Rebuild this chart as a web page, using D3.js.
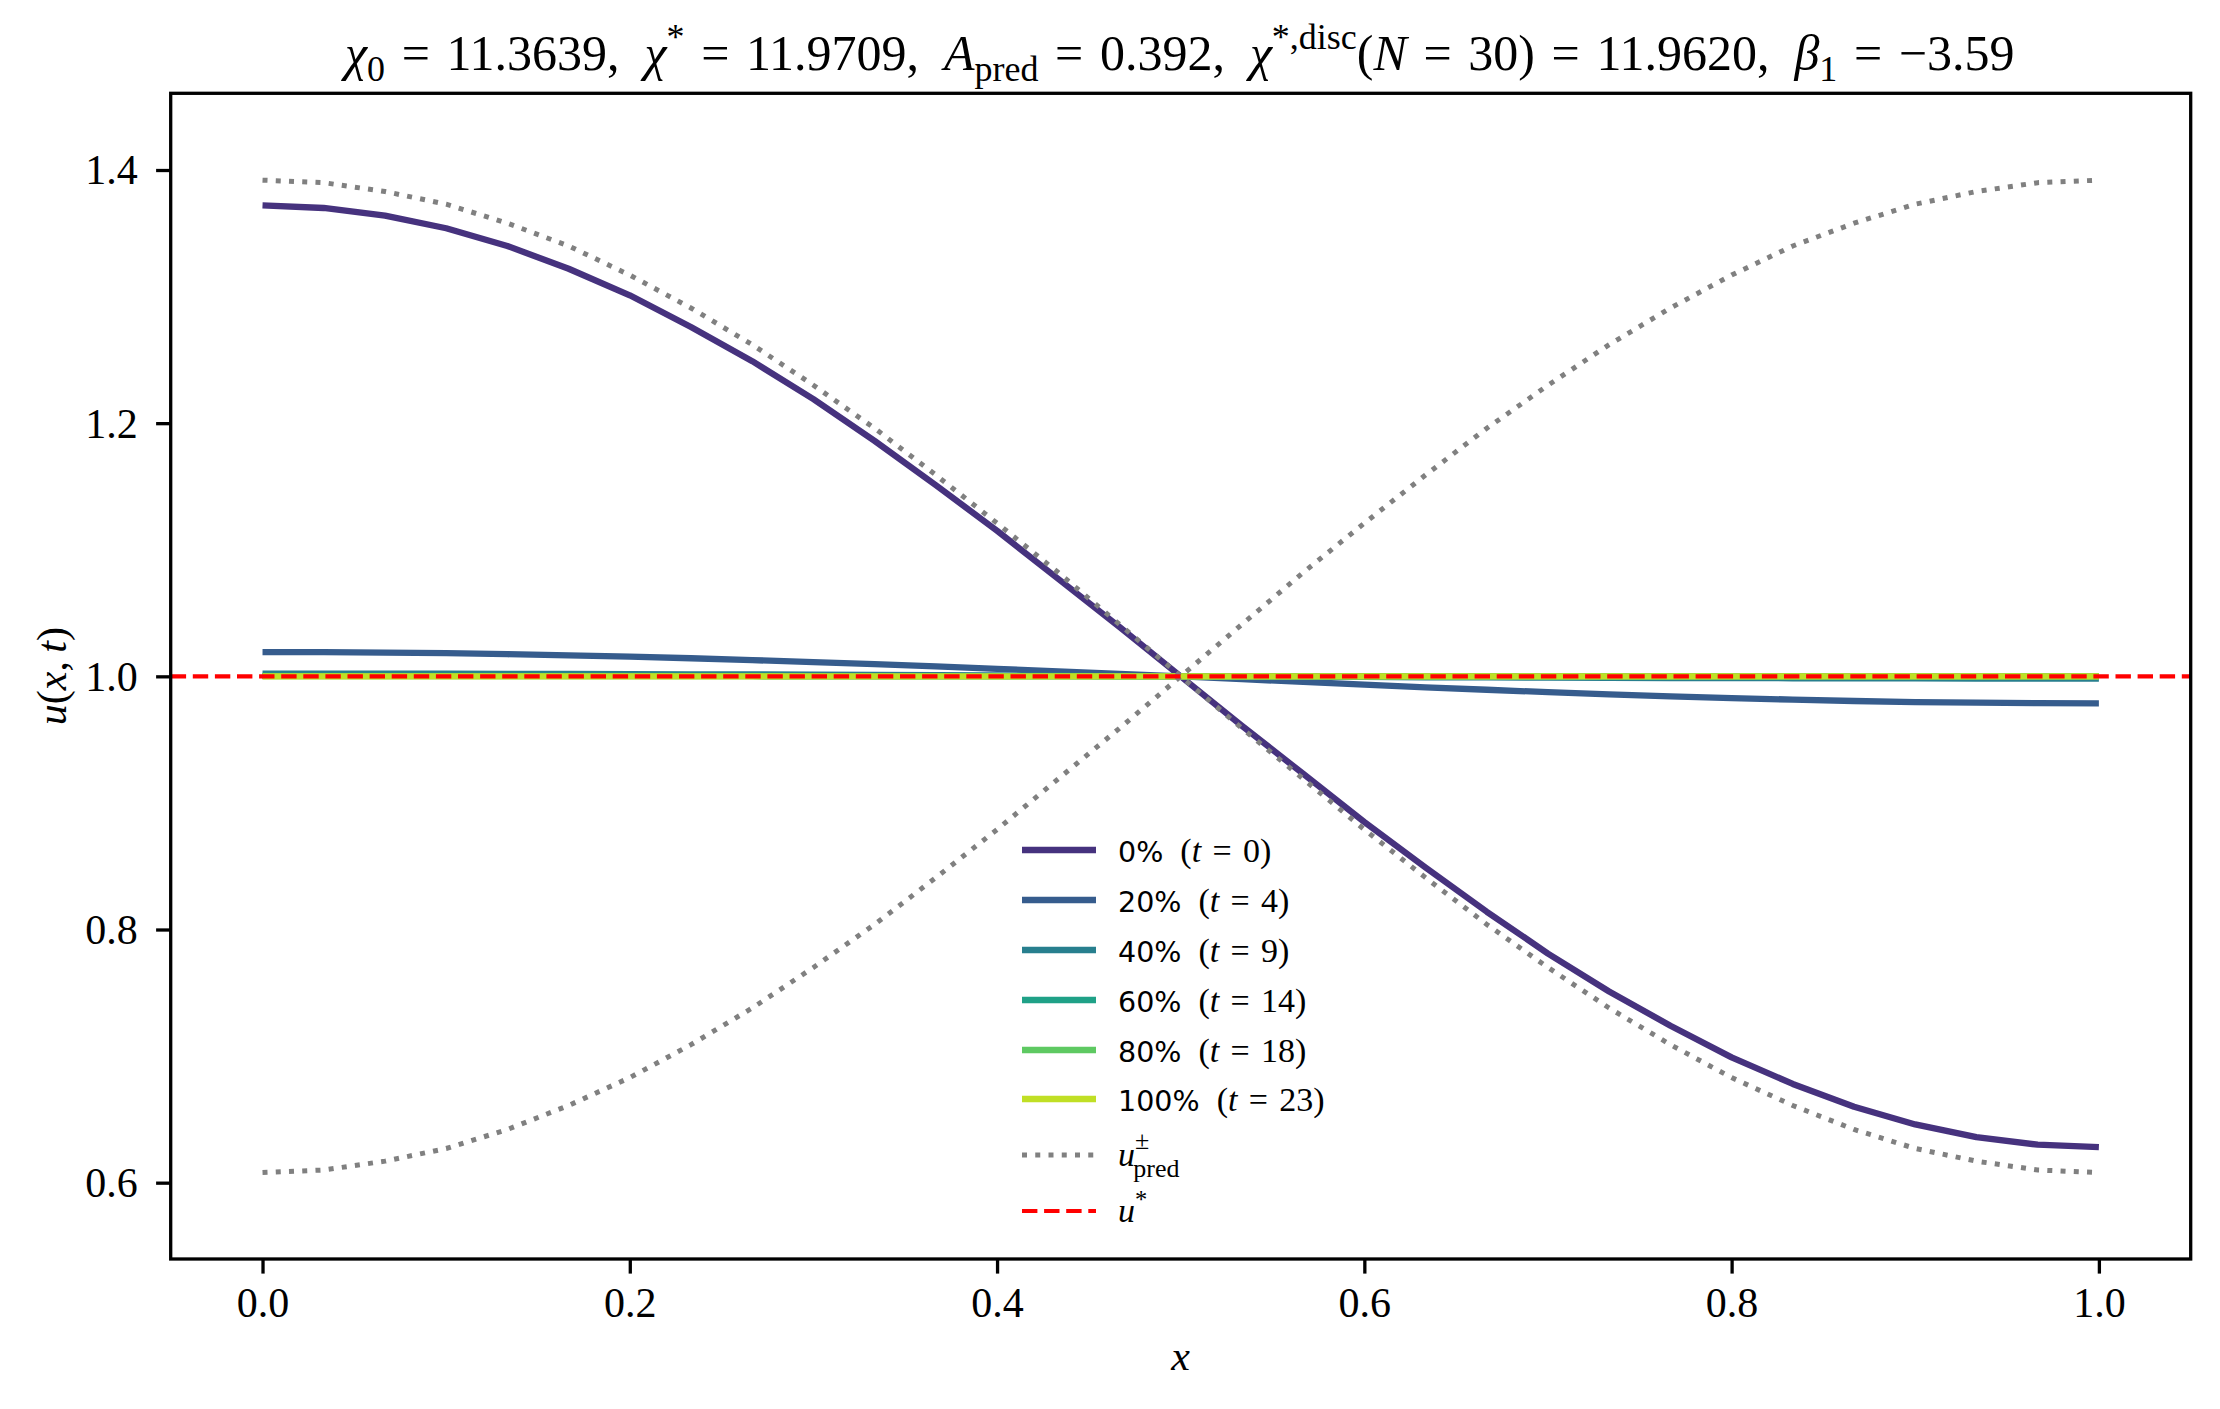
<!DOCTYPE html>
<html>
<head>
<meta charset="utf-8">
<script src="https://cdn.jsdelivr.net/npm/d3@7"></script>
<style>
  body { margin: 0; background: #fff; }
  svg { display: block; }
</style>
</head>
<body>
<div id="chart"></div>
<script>
// grid points x_k = k/30
const xs = [0, 0.0333, 0.0667, 0.1, 0.1333, 0.1667, 0.2, 0.2333, 0.2667, 0.3, 0.3333,
  0.3667, 0.4, 0.4333, 0.4667, 0.5, 0.5333, 0.5667, 0.6, 0.6333, 0.6667,
  0.7, 0.7333, 0.7667, 0.8, 0.8333, 0.8667, 0.9, 0.9333, 0.9667, 1.0];

// snapshots of u(x,t)
const u0 = [1.372, 1.370, 1.364, 1.354, 1.340, 1.322, 1.301, 1.276, 1.249, 1.219, 1.186,
  1.151, 1.115, 1.077, 1.039, 1.000, 0.961, 0.923, 0.885, 0.849, 0.814,
  0.781, 0.751, 0.724, 0.699, 0.678, 0.660, 0.646, 0.636, 0.630, 0.628];
const u20 = [1.0192, 1.0191, 1.0188, 1.0183, 1.0175, 1.0166, 1.0155, 1.0143, 1.0128, 1.0113, 1.0096,
  1.0078, 1.0059, 1.0040, 1.0020, 1.0000, 0.9978, 0.9956, 0.9934, 0.9913, 0.9894,
  0.9875, 0.9858, 0.9842, 0.9828, 0.9816, 0.9805, 0.9797, 0.9792, 0.9788, 0.9787];
const u40 = [1.0022, 1.0022, 1.0022, 1.0021, 1.0020, 1.0019, 1.0018, 1.0016, 1.0015, 1.0013, 1.0011,
  1.0009, 1.0007, 1.0005, 1.0002, 1.0000, 0.9998, 0.9996, 0.9995, 0.9993, 0.9992,
  0.9990, 0.9989, 0.9987, 0.9986, 0.9985, 0.9984, 0.9984, 0.9983, 0.9983, 0.9983];
const u60 = [1.0004, 1.0004, 1.0004, 1.0004, 1.0004, 1.0003, 1.0003, 1.0003, 1.0003, 1.0002, 1.0002,
  1.0002, 1.0001, 1.0001, 1.0000, 1.0000, 0.9999, 0.9999, 0.9999, 0.9998, 0.9998,
  0.9998, 0.9998, 0.9997, 0.9997, 0.9997, 0.9997, 0.9997, 0.9997, 0.9997, 0.9997];
const u80 = [1.0001, 1.0001, 1.0001, 1.0001, 1.0001, 1.0001, 1.0001, 1.0001, 1.0001, 1.0000, 1.0000,
  1.0000, 1.0000, 1.0000, 1.0000, 1.0000, 1.0000, 1.0000, 1.0000, 1.0000, 1.0000,
  1.0000, 0.9999, 0.9999, 0.9999, 0.9999, 0.9999, 0.9999, 0.9999, 0.9999, 0.9999];
const u100 = [1.0, 1.0, 1.0, 1.0, 1.0, 1.0, 1.0, 1.0, 1.0, 1.0, 1.0,
  1.0, 1.0, 1.0, 1.0, 1.0, 1.0, 1.0, 1.0, 1.0, 1.0,
  1.0, 1.0, 1.0, 1.0, 1.0, 1.0, 1.0, 1.0, 1.0, 1.0];

// predicted envelopes u_pred^+ / u_pred^-
const uPredPlus = [1.392, 1.390, 1.383, 1.373, 1.358, 1.340, 1.317, 1.291, 1.262, 1.230, 1.196,
  1.159, 1.121, 1.082, 1.041, 1.000, 0.959, 0.919, 0.879, 0.841, 0.804,
  0.770, 0.738, 0.709, 0.683, 0.661, 0.642, 0.627, 0.617, 0.610, 0.608];
const uPredMinus = [0.608, 0.610, 0.617, 0.627, 0.642, 0.661, 0.683, 0.709, 0.738, 0.770, 0.804,
  0.841, 0.879, 0.919, 0.959, 1.000, 1.041, 1.082, 1.121, 1.159, 1.196,
  1.230, 1.262, 1.291, 1.317, 1.340, 1.358, 1.373, 1.383, 1.390, 1.392];
const uStar = 1.0;

const percentLabels = ["0%", "20%", "40%", "60%", "80%", "100%"];
const tValues = [0, 4, 9, 14, 18, 23];
const seriesColors = ["#46327e", "#365c8d", "#277f8e", "#1fa187", "#5ec962", "#c0df25"];
const xTicks = [0.0, 0.2, 0.4, 0.6, 0.8, 1.0];
const yTicks = [0.6, 0.8, 1.0, 1.2, 1.4];

const snapshots = [u0, u20, u40, u60, u80, u100];

const W = 2220, H = 1409;
const mLeft = 170.7, mRight = 2190.7, mTop = 93.3, mBottom = 1259;
const SERIF = "'Liberation Serif', 'DejaVu Serif', serif";
const SANS = "'DejaVu Sans', sans-serif";
const TEQ = "\u2004=\u2004";

const svg = d3.select("#chart").append("svg")
    .attr("width", W)
    .attr("height", H);

svg.append("rect").attr("width", W).attr("height", H).attr("fill", "#fff");

let x = d3.scaleLinear().domain([-0.05, 1.05]).range([mLeft, mRight]);
let y = d3.scaleLinear().domain([0.5397, 1.4606]).range([mBottom, mTop]);

// small helper for math-ish text: segments [text, kind]
function addMath(sel, segs, fs) {
	let shift = 0;
	segs.forEach(([t, kind]) => {
		let target = 0, size = fs, style = "normal", fam = SERIF;
		if (kind === "i") style = "italic";
		if (kind === "sans") { fam = SANS; size = fs * 0.84; }
		if (kind === "sub" || kind === "subi") { target = 0.22 * fs; size = fs * 0.72; }
		if (kind === "sup" || kind === "supi") { target = -0.42 * fs; size = fs * 0.72; }
		if (kind === "subi" || kind === "supi") style = "italic";
		sel.append("tspan")
			.attr("dy", target - shift)
			.attr("font-size", size)
			.attr("font-style", style)
			.attr("font-family", fam)
			.text(t);
		shift = target;
	});
}

let line = d3.line()
	.x((d, i) => x(xs[i]))
	.y((d) => y(d));

let plot = svg.append("g");

snapshots.forEach((s, i) => {
	plot.append("path")
		.datum(s)
		.attr("fill", "none")
		.attr("stroke", seriesColors[i])
		.attr("stroke-width", 6.3)
		.attr("stroke-linejoin", "round")
		.attr("d", line);
});

[uPredPlus, uPredMinus].forEach((s) => {
	plot.append("path")
		.datum(s)
		.attr("fill", "none")
		.attr("stroke", "#808080")
		.attr("stroke-width", 5)
		.attr("stroke-dasharray", "5,8.25")
		.attr("d", line);
});

plot.append("line")
	.attr("x1", mLeft).attr("x2", mRight)
	.attr("y1", y(uStar)).attr("y2", y(uStar))
	.attr("stroke", "#ff0000")
	.attr("stroke-width", 4.2)
	.attr("stroke-dasharray", "15.4,6.7");

// axes
let xAxis = svg.append("g")
	.attr("transform", "translate(0," + mBottom + ")")
	.call(d3.axisBottom(x).tickValues(xTicks).tickFormat(d3.format(".1f")).tickSize(14.6).tickSizeOuter(0));
let yAxis = svg.append("g")
	.attr("transform", "translate(" + mLeft + ",0)")
	.call(d3.axisLeft(y).tickValues(yTicks).tickFormat(d3.format(".1f")).tickSize(14.6).tickSizeOuter(0));

[xAxis, yAxis].forEach((a) => {
	a.select(".domain").remove();
	a.selectAll(".tick line").attr("stroke", "#000").attr("stroke-width", 3.3);
	a.selectAll(".tick text")
		.attr("font-family", SERIF)
		.attr("font-size", 42)
		.attr("fill", "#000");
});
xAxis.selectAll(".tick text").attr("y", 58).attr("dy", 0);
yAxis.selectAll(".tick text").attr("x", -33).attr("dy", "0.33em");

svg.append("rect")
	.attr("x", mLeft).attr("y", mTop)
	.attr("width", mRight - mLeft).attr("height", mBottom - mTop)
	.attr("fill", "none")
	.attr("stroke", "#000")
	.attr("stroke-width", 3.3);

// axis labels
let xl = svg.append("text")
	.attr("x", (mLeft + mRight) / 2).attr("y", 1370)
	.attr("text-anchor", "middle")
	.attr("font-family", SERIF).attr("font-size", 42);
addMath(xl, [["x", "i"]], 42);

let yl = svg.append("text")
	.attr("transform", "translate(66," + ((mTop + mBottom) / 2) + ") rotate(-90)")
	.attr("text-anchor", "middle")
	.attr("font-family", SERIF).attr("font-size", 42);
addMath(yl, [["u", "i"], ["(", "r"], ["x", "i"], [",\u2009", "r"], ["t", "i"], [")", "r"]], 42);

// title, sized to the reference width
const titleSegs = [
	["χ", "i"], ["0", "sub"], [TEQ + "11.3639,\u2002", "r"],
	["χ", "i"], ["*", "sup"], [TEQ + "11.9709,\u2002", "r"],
	["A", "i"], ["pred", "sub"], [TEQ + "0.392,\u2002", "r"],
	["χ", "i"], ["*,disc", "sup"], ["(", "r"], ["N", "i"], [TEQ + "30)" + TEQ + "11.9620,\u2002", "r"],
	["β", "i"], ["1", "sub"], [TEQ + "−3.59", "r"]
];
let title = svg.append("text")
	.attr("x", 345).attr("y", 70)
	.attr("font-family", SERIF);
addMath(title, titleSegs, 44);
let tw = title.node().getComputedTextLength();
let tfs = Math.max(36, Math.min(50, 44 * 1670 / tw));
title.selectAll("tspan").remove();
addMath(title, titleSegs, tfs);

// legend
let legend = svg.append("g");
let rowsY = [850, 900, 950, 1000, 1050, 1099];
snapshots.forEach((s, i) => {
	legend.append("line")
		.attr("x1", 1022).attr("x2", 1096)
		.attr("y1", rowsY[i]).attr("y2", rowsY[i])
		.attr("stroke", seriesColors[i]).attr("stroke-width", 6.3);
	let t = legend.append("text")
		.attr("x", 1118).attr("y", rowsY[i] + 12);
	addMath(t, [[percentLabels[i], "sans"], ["\u2002(", "r"], ["t", "i"], [TEQ + tValues[i] + ")", "r"]], 34);
});

legend.append("line")
	.attr("x1", 1022).attr("x2", 1096)
	.attr("y1", 1155).attr("y2", 1155)
	.attr("stroke", "#808080").attr("stroke-width", 5)
	.attr("stroke-dasharray", "5,8.25");
let tp = legend.append("text").attr("x", 1118).attr("y", 1166);
addMath(tp, [["u", "i"]], 34);
tp.append("tspan").attr("font-size", 26).attr("font-family", SERIF).attr("dy", -17).text("±");
tp.append("tspan").attr("font-size", 26).attr("font-family", SERIF).attr("dx", -16).attr("dy", 28).text("pred");

legend.append("line")
	.attr("x1", 1022).attr("x2", 1096)
	.attr("y1", 1211).attr("y2", 1211)
	.attr("stroke", "#ff0000").attr("stroke-width", 4.2)
	.attr("stroke-dasharray", "15.4,6.7");
let ts = legend.append("text").attr("x", 1118).attr("y", 1222);
addMath(ts, [["u", "i"], ["*", "sup"]], 34);
</script>
</body>
</html>
